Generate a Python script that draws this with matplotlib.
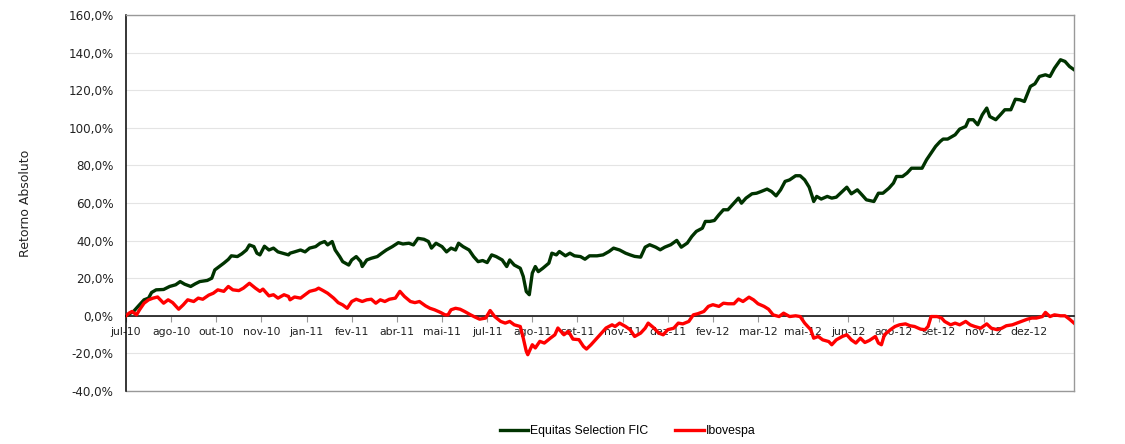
import matplotlib
matplotlib.use("Agg")
import matplotlib.pyplot as plt
from matplotlib.ticker import FuncFormatter

# pregões desde 1/jul/2010 (índice do dia útil) e retorno acumulado em %
dias_equitas = [0, 5, 8, 12, 15, 17, 20, 25, 29, 33, 36, 39, 43, 46, 49, 54, 57, 59, 62, 65,
                68, 70, 74, 77, 80, 82, 85, 87, 89, 92, 95, 98, 101, 104, 108,
                109, 112, 116, 119, 122, 126, 129, 132, 134, 137, 139, 142, 144, 148, 150, 153,
                156, 157, 160, 163, 167, 170, 173, 177, 181, 184, 188, 191, 194, 198, 201, 203,
                206, 210, 213, 216, 219,
                221, 224, 228, 231, 234, 237, 240, 243, 246, 250, 253, 255, 258, 262, 264, 266,
                268, 270, 272, 274, 277, 281, 283, 286, 288, 292, 295, 298, 302, 305, 308, 313,
                317, 321, 324, 328,
                332, 335, 338, 342, 345, 348, 352, 355, 358, 362, 366, 369, 373, 376, 379, 383,
                385, 388, 391, 394, 397, 400, 404, 407, 409, 412, 416, 419, 422, 426, 429, 432,
                435, 438,
                441, 445, 448, 451, 454, 456, 457, 459, 462, 466, 469, 472, 476, 479, 482, 486,
                489, 492, 497, 500, 503, 507, 510, 512, 516, 519, 522, 525, 529, 532, 535, 538,
                541, 543, 546,
                551, 554, 558, 560, 563, 566, 569, 572, 574, 578, 581, 584, 588, 591, 594, 597,
                601, 604, 607, 611, 614, 617, 621, 624, 627, 630]
ret_equitas = [0, 2.3, 5, 8.5, 9.4, 12.4, 13.8, 14, 15.6, 16.5, 18.2, 16.8, 15.6, 17, 18.2, 18.8,
               20, 24.4, 26.2, 28, 30, 31.9, 31.5, 33, 35, 37.7, 36.8, 33.3, 32.4, 37, 35, 36, 34,
               33.3, 32.4,
               33.3, 34, 35, 34, 36, 36.8, 38.6, 39.5, 37.7, 39.5, 35, 31.5, 28.8, 27, 29.7, 31.5,
               28.8, 26.2, 29.7, 30.6, 31.5, 33.3, 35, 36.8, 38.9, 38.2, 38.6, 37.7, 41.2, 40.7,
               39.5, 36, 38.6, 36.8, 34, 36, 35,
               38.6, 36.8, 35, 31.5, 28.8, 29.4, 28.3, 32.4, 31.5, 29.7, 26.2, 29.7, 27, 25.3,
               20.9, 12.9, 11.2, 22.7, 26.2, 23.5, 25.3, 28, 33.3, 32.4, 34.2, 31.9, 33.3, 31.9,
               31.5, 30.1, 31.9, 31.9, 32.4, 34.2, 36, 35,
               33.3, 32.4, 31.6, 31.2, 36.5, 37.8, 36.5, 35.1, 36.5, 37.8, 40.1, 36.5, 38.7, 42.2,
               44.9, 46.6, 50.2, 50.2, 50.7, 53.7, 56.4, 56.4, 59.9, 62.6, 59.9, 62.6, 64.9, 65.2,
               66.1, 67.4, 66.1, 63.8, 67, 71.5,
               72.3, 74.5, 74.5, 72.3, 68.4, 63.5, 60.8, 63.5, 62.1, 63.5, 62.6, 63.1, 66.1, 68.4,
               64.9, 67, 64.4, 61.7, 60.8, 65.2, 65.2, 67.9, 70.6, 74.1, 74.1, 75.9, 78.5, 78.5,
               78.5, 83, 86.5, 90.1, 92.7, 94, 94,
               96.3, 99.3, 100.7, 104.3, 104.3, 101.6, 106.9, 110.5, 106, 104.3, 106.9, 109.6,
               109.6, 115.2, 114.9, 114, 122, 123.4, 127.3, 128.2, 127.3, 131.7, 136.2, 135.3,
               132.6, 130.9]

dias_ibov = [0, 2, 4, 7, 9, 12, 15, 18, 21, 25, 28, 31, 35, 38, 41, 45, 48, 51, 55, 58, 61,
             65, 68, 71, 75, 78, 82, 86, 89, 91, 95, 98, 101, 105, 108,
             109, 112, 116, 119, 122, 126, 128, 131, 134, 138, 141, 144, 147, 150, 153, 157,
             160, 163, 166, 169, 172, 175, 179, 182, 185, 189, 192, 195, 199, 202, 205, 209,
             212, 214, 216, 219,
             222, 225, 229, 232, 235, 239, 242, 245, 249, 252, 255, 258, 262, 264, 266, 267,
             270, 272, 275, 278, 282, 285, 287, 291, 294, 297, 301, 304, 306, 309, 313, 316,
             319, 323, 325, 328,
             332, 335, 338, 342, 345, 347, 351, 354, 357, 360, 364, 367, 370, 374, 377, 380,
             384, 387, 390, 394, 397, 400, 404, 407, 410, 414, 417, 420, 424, 427, 430, 434,
             437,
             441, 445, 448, 451, 455, 457, 460, 463, 467, 469, 472, 476, 479, 482, 485, 488,
             491, 494, 498, 500, 502, 504, 508, 511, 514, 518, 521, 524, 528, 531, 533, 535,
             539, 542, 544, 548,
             551, 554, 558, 561, 564, 568, 572, 575, 579, 582, 585, 589, 592, 595, 599, 602,
             605, 609, 611, 614, 617, 621, 624, 627, 630]
ret_ibov = [0, 1.4, 2.3, 0.5, 3.2, 6.7, 8.5, 9.4, 10, 6.7, 8.5, 7, 3.5, 5.8, 8.5, 7.6, 9.4,
            8.8, 11, 12, 13.8, 13, 15.6, 13.8, 13.4, 14.7, 17.3, 14.7, 13, 14.2, 10.6, 11.2,
            9.4, 11.2, 10.3,
            8.5, 10, 9.4, 11.2, 13, 13.8, 14.7, 13.4, 12, 9.4, 7, 5.8, 4, 7.6, 8.8, 7.6, 8.5,
            8.8, 6.7, 8.5, 7.6, 8.8, 9.4, 13, 10.3, 7.6, 7, 7.6, 5.3, 4, 3.2, 1.8, 0.5, 0.5,
            3.2, 4,
            3.5, 2.3, 0.5, -0.7, -1.8, -1.2, 2.8, -0.4, -3, -3.9, -3, -4.8, -5.7, -11.9, -18.9,
            -20.7, -15.4, -17.1, -13.6, -14.5, -11.9, -10.1, -6.5, -10.1, -8.3, -12.4, -12.7,
            -16.3, -17.7, -15.4, -11.9, -9.2, -6.5, -4.8, -5.7, -3.9,
            -5.7, -7.4, -11, -9.2, -6.6, -3.9, -6.6, -9.2, -10.1, -7.4, -6.6, -3.9, -4.3, -3,
            0.5, 1.1, 2.3, 5, 5.9, 5, 6.7, 6.4, 6.4, 8.9, 7.6, 9.9, 8.5, 6.4, 5, 3.5, 0.5,
            -0.4, 1.4,
            -0.4, 0, -0.4, -3.9, -7.4, -11.9, -11, -12.8, -13.7, -15.4, -12.8, -11, -10.1,
            -12.8, -14.5, -11.9, -14.2, -13.1, -11, -14.5, -15.4, -10.1, -7.4, -5.7, -4.8,
            -4.3, -5.3, -5.7, -7.1, -7.4, -5.7, -0.4, -0.4, -1.2, -3, -4.8,
            -3.9, -4.8, -3, -4.8, -5.7, -6.6, -4.3, -6.6, -7.4, -6.6, -5.3, -4.8, -3.9, -3,
            -1.8, -1.2, -1.2, -0.4, 1.8, -0.4, 0.5, 0, 0, -1.8, -3.9]

rotulos_x = ['jul-10', 'ago-10', 'out-10', 'nov-10', 'jan-11', 'fev-11', 'abr-11', 'mai-11',
             'jul-11', 'ago-11', 'set-11', 'nov-11', 'dez-11', 'fev-12', 'mar-12', 'mai-12',
             'jun-12', 'ago-12', 'set-12', 'nov-12', 'dez-12']
passo_rotulo = 30

fig = plt.figure(figsize=(11.25, 4.44), dpi=100)
ax = fig.add_axes([0.112, 0.1194, 0.8427, 0.8468])

# posicionar o eixo x no zero antes de configurar os rótulos (set_position recria os ticks)
ax.spines['bottom'].set_position(('data', 0))
ax.spines['bottom'].set_color('black')
ax.spines['bottom'].set_linewidth(1.1)
ax.spines['left'].set_color('black')
ax.spines['left'].set_linewidth(1.1)
for s in ['top', 'right']:
    ax.spines[s].set_color('#999999')
    ax.spines[s].set_linewidth(1.0)

ax.plot(dias_equitas, ret_equitas, color='#003300', lw=2.4, label='Equitas Selection FIC',
        zorder=4, solid_joinstyle='round')
ax.plot(dias_ibov, ret_ibov, color='#ff0000', lw=2.4, label='Ibovespa', zorder=4,
        solid_joinstyle='round')

ax.set_xlim(0, 630)
ax.set_ylim(-40, 160)
ax.set_yticks(range(-40, 161, 20))
ax.yaxis.set_major_formatter(FuncFormatter(lambda v, p: f"{v:.1f}%".replace('.', ',')))
ax.grid(axis='y', color='#e4e4e4', lw=0.8)
ax.set_axisbelow(True)

ax.set_xticks([i * passo_rotulo for i in range(len(rotulos_x))])
ax.set_xticklabels(rotulos_x)
ax.tick_params(axis='x', length=4, color='#999999', pad=4, labelsize=7.8,
               labelcolor='#222222')
ax.tick_params(axis='y', length=0, labelsize=8.6, pad=9, labelcolor='#222222')
ax.axhline(-40, color='#999999', lw=1.0, clip_on=False, zorder=2)

ax.set_ylabel('Retorno Absoluto', fontsize=9, labelpad=26, color='#222222')

fig.legend(loc='center', bbox_to_anchor=(0.558, 0.029), ncol=2, frameon=False,
           prop={'family': 'Liberation Sans', 'size': 8.8}, handlelength=2.3,
           handletextpad=0.2, columnspacing=2.2)

fig.savefig('out.png', dpi=100)
